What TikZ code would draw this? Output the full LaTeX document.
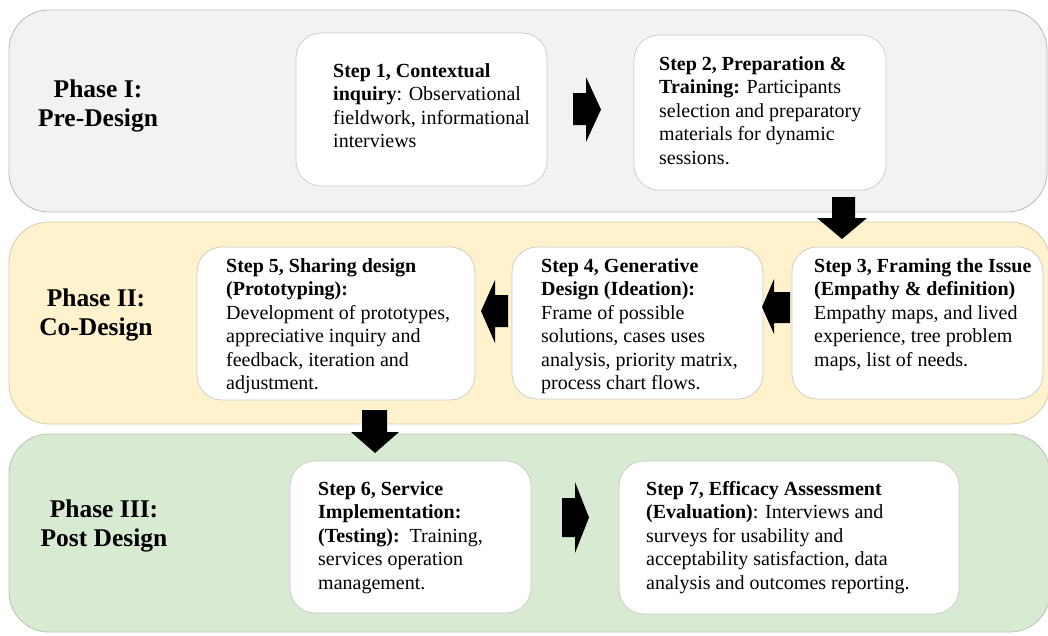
\documentclass[tikz,border=0pt]{standalone}
\usepackage{fontspec}
\setmainfont{Liberation Serif}
\begin{document}
\begin{tikzpicture}[x=1pt,y=-1pt,
  band/.style={rounded corners=40pt,line width=0.8pt},
  stepbox/.style={rounded corners=25pt,fill=white,draw=boxline,line width=0.7pt},
  steptext/.style={anchor=north west,inner sep=0pt,align=left,
    font=\fontsize{20}{23.5}\selectfont,text=black},
  phasetext/.style={inner sep=0pt,align=center,
    font=\fontsize{25.5}{29}\selectfont\bfseries,text=black},
  blk/.style={fill=black,draw=none}]
\definecolor{boxline}{HTML}{C9C9C9}
\definecolor{grayfill}{HTML}{F2F2F2}
\definecolor{grayline}{HTML}{B8B8B8}
\definecolor{yellowfill}{HTML}{FFF2CC}
\definecolor{yellowline}{HTML}{D5CBAA}
\definecolor{greenfill}{HTML}{D9EAD3}
\definecolor{greenline}{HTML}{B5C4AE}

\useasboundingbox (0,0) rectangle (1048,635);
\begin{scope}
\clip (0,0) rectangle (1048,635);

% phase bands
\draw[band,fill=grayfill,draw=grayline] (9,10) rectangle (1047,212);
\draw[band,fill=yellowfill,draw=yellowline] (9,222) rectangle (1050,424);
\draw[band,fill=greenfill,draw=greenline] (9,434) rectangle (1050,632);

% phase labels
\node[phasetext] (p1) at (98,106) {Phase I:\\Pre-Design};
\node[phasetext] (p2) at (96,315) {Phase II:\\Co-Design};
\node[phasetext] (p3) at (104,526) {Phase III:\\Post Design};

% step boxes
\draw[stepbox] (296,33) rectangle (547,186);
\draw[stepbox] (634,35) rectangle (886,190);
\draw[stepbox] (792,247) rectangle (1043,399);
\draw[stepbox] (512,247) rectangle (763,399);
\draw[stepbox] (197,247) rectangle (475,400);
\draw[stepbox] (290,461) rectangle (531,613);
\draw[stepbox] (619,461) rectangle (959,614);

% step texts (top of first line)
\node[steptext] (s1) at (333,63) {\textbf{Step 1, Contextual}\\
  \textbf{inquiry}: Observational\\ fieldwork, informational\\ interviews};
\node[steptext] (s2) at (659,56) {\textbf{Step 2, Preparation \&}\\
  \textbf{Training:} Participants\\ selection and preparatory\\
  materials for dynamic\\ sessions.};
\node[steptext] (s3) at (814,258) {\textbf{Step 3, Framing the Issue}\\
  \textbf{(Empathy \& definition)}\\ Empathy maps, and lived\\
  experience, tree problem\\ maps, list of needs.};
\node[steptext] (s4) at (541,258) {\textbf{Step 4, Generative}\\
  \textbf{Design (Ideation):}\\ Frame of possible\\ solutions, cases uses\\
  analysis, priority matrix,\\ process chart flows.};
\node[steptext] (s5) at (226,258) {\textbf{Step 5, Sharing design}\\
  \textbf{(Prototyping):}\\ Development of prototypes,\\
  appreciative inquiry and\\ feedback, iteration and\\ adjustment.};
\node[steptext] (s6) at (318,481) {\textbf{Step 6, Service}\\
  \textbf{Implementation:}\\ \textbf{(Testing):}\ \ Training,\\
  services operation\\ management.};
\node[steptext] (s7) at (646,481) {\textbf{Step 7, Efficacy Assessment}\\
  \textbf{(Evaluation)}: Interviews and\\ surveys for usability and\\
  acceptability satisfaction, data\\ analysis and outcomes reporting.};

% block arrows between the steps
% step 1 -> step 2
\fill[blk] (573,93) -- (586,93) -- (586,77) -- (601,109.5) -- (586,142)
  -- (586,125) -- (573,125) -- cycle;
% step 2 -> step 3
\fill[blk] (832,197) -- (855,197) -- (855,218) -- (867,218) -- (842,239)
  -- (817,218) -- (832,218) -- cycle;
% step 3 -> step 4
\fill[blk] (790,292) -- (774,292) -- (774,279) -- (762,307) -- (774,334)
  -- (774,323) -- (790,323) -- cycle;
% step 4 -> step 5
\fill[blk] (508,295) -- (495,295) -- (495,280) -- (481,311) -- (495,343)
  -- (495,327) -- (508,327) -- cycle;
% step 5 -> step 6
\fill[blk] (362,410) -- (387,410) -- (387,432) -- (399,432) -- (375,453)
  -- (351,432) -- (362,432) -- cycle;
% step 6 -> step 7
\fill[blk] (562,498) -- (575,498) -- (575,482) -- (589,517.5) -- (575,553)
  -- (575,537) -- (562,537) -- cycle;
\end{scope}
\end{tikzpicture}
\end{document}
